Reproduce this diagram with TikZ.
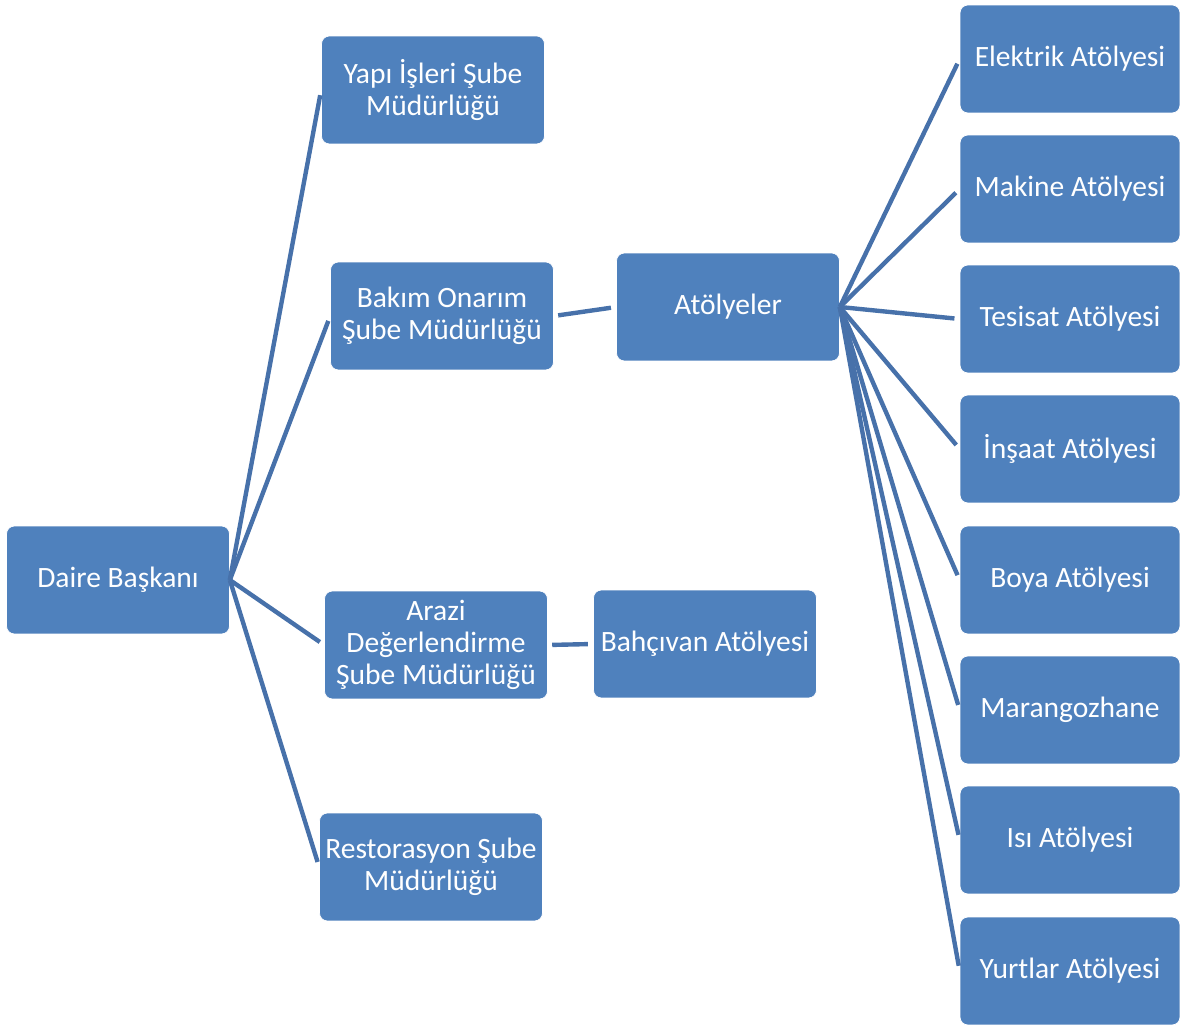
\documentclass[tikz,border=0pt]{standalone}
\usepackage{fontspec}
\setmainfont{Carlito}
\definecolor{boxblue}{HTML}{4F81BD}
\definecolor{linkblue}{HTML}{4771AA}
\tikzset{
  unit/.style={draw=white, line width=0.4pt, fill=boxblue, rounded corners=4.5pt,
    text=white, align=center, font=\fontsize{16.8}{18.2}\selectfont,
    minimum width=4.46cm, minimum height=2.16cm, inner sep=1pt},
  shop/.style={unit, minimum width=4.4cm},
  link/.style={linkblue, line width=2.5pt, shorten >=3pt},
  sublink/.style={link, shorten <=2.5pt}
}
\begin{document}
\begin{tikzpicture}[x=0.02cm, y=-0.02cm]
  \useasboundingbox (0,0) rectangle (1180,1026);
  \node[unit] (daire) at (118,580) {Daire Başkanı};
  \node[unit] (yapi) at (433,90) {Yapı İşleri Şube\\Müdürlüğü};
  \node[unit] (bakim) at (442,316) {Bakım Onarım\\Şube Müdürlüğü};
  \node[unit] (arazi) at (436,645) {Arazi\\Değerlendirme\\Şube Müdürlüğü};
  \node[unit] (resto) at (431,867) {Restorasyon Şube\\Müdürlüğü};
  \node[unit] (atolye) at (728,307) {Atölyeler};
  \node[unit] (bahce) at (705,644) {Bahçıvan Atölyesi};
  \node[shop] (elektrik) at (1070,59) {Elektrik Atölyesi};
  \node[shop] (makine) at (1070,189) {Makine Atölyesi};
  \node[shop] (tesisat) at (1070,319) {Tesisat Atölyesi};
  \node[shop] (insaat) at (1070,449) {İnşaat Atölyesi};
  \node[shop] (boya) at (1070,580) {Boya Atölyesi};
  \node[shop] (marangoz) at (1070,710) {Marangozhane};
  \node[shop] (isi) at (1070,840) {Isı Atölyesi};
  \node[shop] (yurt) at (1070,971) {Yurtlar Atölyesi};
  \begin{scope}[link]
    \draw (daire.east) -- (yapi.west);
    \draw (daire.east) -- (bakim.west);
    \draw (daire.east) -- (arazi.west);
    \draw (daire.east) -- (resto.west);
    \draw[sublink] (bakim.east) -- (atolye.west);
    \draw[sublink] (arazi.east) -- (bahce.west);
    \draw (atolye.east) -- (elektrik.west);
    \draw (atolye.east) -- (makine.west);
    \draw (atolye.east) -- (tesisat.west);
    \draw (atolye.east) -- (insaat.west);
    \draw (atolye.east) -- (boya.west);
    \draw (atolye.east) -- (marangoz.west);
    \draw (atolye.east) -- (isi.west);
    \draw (atolye.east) -- (yurt.west);
  \end{scope}
\end{tikzpicture}
\end{document}
